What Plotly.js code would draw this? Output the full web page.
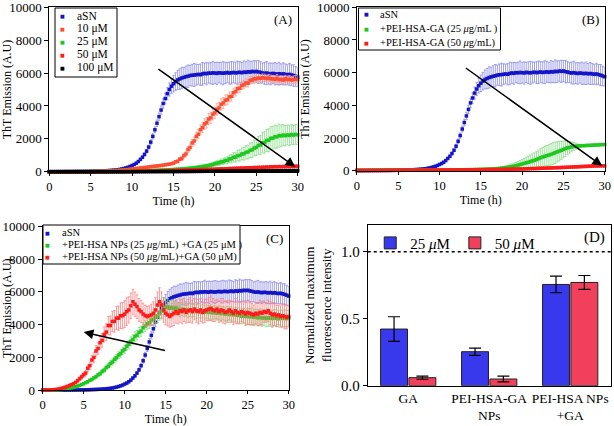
<!DOCTYPE html>
<html><head><meta charset="utf-8">
<script src="https://cdn.plot.ly/plotly-3.0.1.min.js"></script>
<style>html,body{margin:0;padding:0;background:#fff}#chart{width:614px;height:426px}</style>
</head><body><div id="chart"></div>
<script>
// ---------- DATA ----------
const time = [
0,0.25,0.5,0.75,1,1.25,1.5,1.75,2,2.25,2.5,2.75,3,3.25,3.5,3.75,4,4.25,4.5,4.75,
5,5.25,5.5,5.75,6,6.25,6.5,6.75,7,7.25,7.5,7.75,8,8.25,8.5,8.75,9,9.25,9.5,9.75,
10,10.25,10.5,10.75,11,11.25,11.5,11.75,12,12.25,12.5,12.75,13,13.25,13.5,13.75,14,14.25,14.5,14.75,
15,15.25,15.5,15.75,16,16.25,16.5,16.75,17,17.25,17.5,17.75,18,18.25,18.5,18.75,19,19.25,19.5,19.75,
20,20.25,20.5,20.75,21,21.25,21.5,21.75,22,22.25,22.5,22.75,23,23.25,23.5,23.75,24,24.25,24.5,24.75,
25,25.25,25.5,25.75,26,26.25,26.5,26.75,27,27.25,27.5,27.75,28,28.25,28.5,28.75,29,29.25,29.5,29.75,
30];

// aSN control (same in A, B, C)
const aSN = [
10,10,11,11,12,12,13,13,14,14,15,15,16,17,18,19,20,22,24,26,
28,31,34,38,42,47,52,58,65,73,82,92,105,120,140,165,195,230,270,320,
380,440,520,620,750,880,1050,1250,1500,1800,2150,2550,2950,3350,3750,4150,4450,4750,5000,5200,
5350,5480,5580,5640,5700,5740,5780,5810,5850,5870,5880,5900,5920,5900,5950,5980,5960,6000,5990,6010,
6000,5980,6020,6000,5990,6010,6030,6000,6020,6040,6010,6030,6050,6020,6060,6040,6080,6060,6100,6080,
6100,6060,6040,6000,5980,6000,5970,5950,5980,5960,5940,5960,5930,5950,5920,5900,5920,5880,5850,5800,
5750];
const aSNErr = [
0,0,0,0,0,0,0,0,0,0,0,0,0,0,0,0,0,0,0,0,
0,0,0,0,0,0,0,0,0,0,0,0,10,10,15,20,25,30,35,40,
45,50,55,60,70,80,90,100,120,140,160,180,200,220,250,280,320,360,400,450,
500,540,580,620,650,600,640,680,620,660,700,640,600,650,690,630,670,610,650,700,
640,680,620,660,700,650,610,670,690,630,660,700,640,620,680,650,700,660,620,680,
640,690,650,610,670,700,640,660,620,680,650,690,630,670,640,610,660,620,650,600,
580];

// Panel A: GA concentrations
const ga10 = [
0,0,0,0,1,1,2,2,3,3,4,4,5,5,6,7,8,9,10,12,
14,16,19,22,26,30,35,40,46,52,58,65,72,80,90,100,110,120,135,150,
165,180,195,210,225,240,255,270,290,305,320,335,350,365,380,400,420,440,460,490,
520,600,630,760,800,980,1080,1350,1480,1750,1870,2150,2280,2550,2680,2900,2980,3200,3280,3500,
3580,3800,3880,4100,4180,4350,4380,4550,4580,4800,4880,5050,5080,5250,5280,5400,5380,5550,5580,5650,
5650,5700,5680,5720,5700,5660,5700,5650,5650,5620,5680,5600,5620,5580,5650,5600,5620,5580,5600,5620,
5600];
const ga10Err = [
0,0,0,0,0,0,0,0,0,0,0,0,0,0,0,0,0,0,0,0,
0,0,0,0,0,0,0,0,0,0,0,0,0,0,5,5,5,5,10,10,
10,10,15,15,15,20,20,20,25,25,30,30,30,35,35,40,40,45,50,60,
70,80,90,100,120,140,160,180,200,220,240,260,280,300,300,320,320,340,340,350,
350,360,340,350,330,320,300,300,280,280,260,260,250,250,240,240,230,230,220,220,
220,230,210,220,230,210,220,230,210,220,230,210,220,230,210,220,230,210,220,230,
220];
const ga25 = [
0,0,0,0,0,0,0,0,1,1,1,1,2,2,2,2,3,3,3,4,
4,5,5,6,7,8,9,10,11,12,14,15,17,19,21,23,25,28,31,34,
38,41,45,49,53,57,61,65,70,74,78,83,88,93,98,104,110,116,122,128,
135,143,151,160,170,180,191,203,216,230,245,261,278,296,315,335,356,378,400,440,
480,520,540,600,610,680,690,780,790,880,890,980,990,1080,1090,1180,1200,1300,1330,1440,
1480,1600,1620,1760,1780,1900,1910,2030,2040,2130,2120,2200,2180,2230,2190,2240,2210,2260,2230,2270,
2250];
const ga25Err = [
0,0,0,0,0,0,0,0,0,0,0,0,0,0,0,0,0,0,0,0,
0,0,0,0,0,0,0,0,0,0,0,0,0,0,0,0,0,0,0,0,
0,0,0,0,0,5,5,5,5,5,5,5,10,10,10,10,10,15,15,15,
20,20,20,25,25,30,30,35,40,40,45,50,60,70,80,90,100,110,120,130,
140,150,160,170,180,200,220,240,260,280,300,320,340,360,380,400,420,440,460,480,
500,540,580,620,650,680,700,700,720,700,680,700,660,640,620,600,620,600,580,600,
600];
const ga50 = [
0,0,0,0,0,0,0,0,0,0,0,0,0,0,0,0,0,0,0,0,
1,1,2,2,3,3,4,4,5,6,7,8,9,10,11,12,14,16,18,20,
22,24,26,28,30,32,34,36,38,40,43,46,49,52,55,58,61,64,67,70,
74,78,82,86,90,94,98,102,106,110,114,118,122,126,130,134,138,142,146,150,
150,165,160,175,170,185,180,195,190,205,200,215,210,225,220,235,230,245,240,255,
250,265,260,275,270,285,280,300,290,310,295,315,300,320,305,325,310,330,320,335,
330];
const ga100 = [
0,0,0,0,0,0,0,0,0,0,0,0,0,0,0,0,0,0,0,0,
0,0,0,0,0,0,0,0,0,0,0,0,0,0,0,0,0,0,0,0,
2,2,3,3,4,4,5,5,6,6,7,7,8,8,9,9,10,10,11,11,
12,12,13,14,15,15,16,17,18,19,20,21,22,23,24,25,26,27,28,29,
30,31,32,33,34,35,36,37,38,39,40,41,42,43,44,45,46,47,48,49,
50,51,52,53,54,55,56,57,58,59,60,61,62,63,64,65,66,67,68,69,
70];

// Panel B: PEI-HSA-GA NPs
const nps25 = [
20,22,21,23,22,24,23,25,24,26,25,27,26,28,27,29,28,30,29,31,
30,32,31,33,32,34,33,35,34,36,35,37,36,38,37,39,38,40,39,41,
40,42,43,45,46,48,49,51,52,54,56,58,60,62,64,66,69,72,75,78,
82,86,90,95,100,106,112,120,130,142,155,170,188,205,225,250,275,305,340,375,
410,450,480,520,560,600,640,690,740,790,840,880,920,960,1000,1050,1100,1150,1200,1250,
1300,1350,1400,1430,1460,1480,1500,1510,1520,1530,1530,1540,1550,1550,1560,1570,1570,1580,1590,1600,
1600];
const nps25Err = [
0,0,0,0,0,0,0,0,0,0,0,0,0,0,0,0,0,0,0,0,
0,0,0,0,0,0,0,0,0,0,0,0,0,0,0,0,0,0,0,0,
0,0,0,0,0,0,0,0,0,0,0,0,0,0,0,0,5,5,5,5,
5,5,10,10,15,20,25,30,40,50,60,80,100,120,140,160,180,200,220,250,
280,310,340,370,400,430,460,490,520,550,580,600,620,640,660,680,650,620,600,560,
520,480,420,360,300,240,180,120,80,50,40,30,30,30,30,30,30,30,30,30,
30];
const nps50 = [
10,11,12,12,13,14,14,15,16,16,17,18,18,19,20,20,21,22,22,23,
24,24,25,26,26,27,28,28,29,30,30,31,32,32,33,34,34,35,36,36,
37,38,39,40,41,42,43,44,45,46,47,48,49,50,51,52,53,54,55,56,
58,60,62,64,66,68,70,72,74,76,78,80,83,86,89,92,95,98,101,104,
108,112,116,120,124,128,132,136,140,145,150,155,160,165,170,175,180,185,190,195,
200,206,212,218,224,230,236,242,248,254,260,266,272,278,284,290,292,294,296,298,
300];

// Panel C: PEI-HSA NPs + GA
const mix25 = [
5,6,7,9,12,15,20,27,40,48,60,78,100,120,150,185,220,260,300,350,
400,470,520,610,660,760,830,940,1010,1150,1230,1390,1470,1630,1720,1890,1980,2150,2230,2400,
2490,2690,2790,2990,3100,3280,3360,3530,3610,3810,3920,4060,4120,4280,4330,4480,4530,4720,4830,4980,
5050,5100,5000,5050,4980,5020,4950,4900,4950,4880,4920,4850,4900,4830,4880,4800,4850,4780,4820,4760,
4800,4750,4780,4720,4760,4700,4740,4680,4700,4650,4680,4620,4650,4600,4620,4560,4580,4520,4550,4500,
4520,4480,4500,4450,4470,4420,4450,4400,4430,4380,4420,4400,4380,4420,4390,4360,4410,4380,4400,4370,
4400];
const mix25Err = [
5,5,5,5,5,5,5,10,10,10,10,15,15,15,20,20,20,25,25,30,
40,50,60,70,80,90,100,110,120,130,140,150,160,170,180,190,200,210,220,230,
240,250,260,270,280,290,300,300,310,320,330,340,350,360,380,400,420,450,480,500,
520,500,480,460,440,420,400,420,400,380,400,420,400,380,400,420,400,380,400,420,
400,420,440,420,400,420,440,420,400,420,440,460,440,420,440,460,480,460,440,460,
480,500,520,500,480,500,520,500,480,500,520,500,480,500,520,500,480,500,520,500,
480];
const mix50 = [
0,5,10,15,20,30,45,60,80,110,150,190,240,290,340,400,480,580,700,820,
950,1050,1350,1500,1850,2000,2400,2550,2900,3050,3400,3550,3950,3950,4200,4200,4400,4400,4550,4550,
4650,4800,4900,5150,5400,5250,5100,4900,4800,4650,4550,4500,4550,4600,4700,4900,5200,5400,5200,4900,
4700,4600,4500,4600,4700,4800,4700,4850,4800,4900,4750,4850,4900,4800,4950,4850,4800,4900,4750,4850,
4900,4950,5000,4900,4850,4950,4800,4900,4850,4750,4800,4900,4800,4700,4850,4750,4700,4800,4750,4650,
4750,4700,4650,4600,4700,4650,4750,4700,4800,4750,4850,4700,4600,4650,4550,4600,4500,4550,4500,4450,
4500];
const mix50Err = [
5,5,5,5,10,10,10,15,20,25,30,35,40,50,60,70,80,100,120,140,
160,180,200,230,260,290,320,350,380,420,460,500,540,580,620,660,700,740,780,800,
820,840,800,780,760,740,720,700,680,660,640,620,600,650,700,750,800,850,800,750,
700,680,650,700,750,700,650,700,750,700,650,700,750,700,650,700,750,700,650,700,
650,700,750,700,650,600,650,700,750,700,650,600,650,700,750,700,650,600,650,700,
750,700,650,600,650,700,750,700,650,600,650,700,750,700,650,600,650,700,750,700,
650];

// Panel D: normalized maximum fluorescence
const barCategories = ['GA', 'PEI-HSA-GA<br>NPs', 'PEI-HSA NPs<br>+GA'];
const bar25 = [0.423, 0.254, 0.756];
const bar25Err = [0.092, 0.027, 0.062];
const bar50 = [0.060, 0.050, 0.771];
const bar50Err = [0.012, 0.022, 0.052];

// Legend labels
const legendA = ['aSN', '10 μM', '25 μM', '50 μM', '100 μM'];
const legendB = ['aSN', '+PEI-HSA-GA (25 <i>μ</i>g/mL )', '+PEI-HSA-GA (50 <i>μ</i>g/mL)'];
const legendC = ['aSN', '+PEI-HSA NPs (25 <i>μ</i>g/mL) +GA (25 μM )', '+PEI-HSA NPs (50 <i>μ</i>g/mL)+GA (50 μM)'];

// ---------- STYLE ----------
const SERIF = 'Liberation Serif, Times New Roman, serif';
const tickFont = {family: SERIF, size: 13, color: '#000'};
const xTickFont = {family: SERIF, size: 12.5, color: '#000'};
const titleFont = {family: SERIF, size: 12, color: '#000'};
const BLUE = '#1414c8', BLUE_E = '#8a8ae6';
const ORANGE = '#ff4d33', ORANGE_E = '#ffa08a';
const GREEN = '#1ec81e', GREEN_E = '#86dc86';
const RED = '#ff1a1a', RED_E = '#ff8080';
const colorsA = [BLUE, ORANGE, GREEN, RED, '#000'];
const colorsB = [BLUE, GREEN, RED];
const colorsC = [BLUE, GREEN, RED];

function sc(y, err, name, color, errColor, xa, ya) {
  return {
    type: 'scatter', mode: 'markers', x: time, y: y, name: name,
    xaxis: xa, yaxis: ya, showlegend: false, cliponaxis: false,
    marker: {color: color, size: 3.5, symbol: 'square'},
    error_y: err ? {type: 'data', array: err, visible: true, color: errColor, thickness: 0.8, width: 1.2}
                 : {visible: false}
  };
}

const traces = [
  sc(aSN, aSNErr, legendA[0], BLUE, BLUE_E, 'x', 'y'),
  sc(ga10, ga10Err, legendA[1], ORANGE, ORANGE_E, 'x', 'y'),
  sc(ga25, ga25Err, legendA[2], GREEN, GREEN_E, 'x', 'y'),
  sc(ga50, null, legendA[3], RED, RED_E, 'x', 'y'),
  sc(ga100, null, legendA[4], '#000', '#000', 'x', 'y'),

  sc(aSN, aSNErr, legendB[0], BLUE, BLUE_E, 'x2', 'y2'),
  sc(nps25, nps25Err, legendB[1], GREEN, GREEN_E, 'x2', 'y2'),
  sc(nps50, null, legendB[2], RED, RED_E, 'x2', 'y2'),

  sc(aSN, aSNErr, legendC[0], BLUE, BLUE_E, 'x3', 'y3'),
  sc(mix25, mix25Err, legendC[1], GREEN, GREEN_E, 'x3', 'y3'),
  sc(mix50, mix50Err, legendC[2], RED, RED_E, 'x3', 'y3'),

  {type: 'bar', x: barCategories, y: bar25, name: '25 <i>μ</i>M', xaxis: 'x4', yaxis: 'y4',
   marker: {color: '#3838ec', line: {color: '#222', width: 1}},
   error_y: {type: 'data', array: bar25Err, visible: true, color: '#000', thickness: 1.2, width: 6}},
  {type: 'bar', x: barCategories, y: bar50, name: '50 <i>μ</i>M', xaxis: 'x4', yaxis: 'y4',
   marker: {color: '#f23f5c', line: {color: '#222', width: 1}},
   error_y: {type: 'data', array: bar50Err, visible: true, color: '#000', thickness: 1.2, width: 6}}
];

function xTime(domain, anchor) {
  return {domain: domain, anchor: anchor, range: [0, 30], dtick: 5, tick0: 0,
    ticks: 'outside', ticklen: 3, tickwidth: 1, tickcolor: '#000', ticklabeloverflow: 'allow',
    showline: true, linecolor: '#000', linewidth: 1, mirror: true,
    showgrid: false, zeroline: false, tickfont: xTickFont,
    title: {text: 'Time (h)', font: titleFont, standoff: 0}};
}
function yThT(domain, anchor) {
  return {domain: domain, anchor: anchor, range: [0, 10000], dtick: 2000, tick0: 0, tickformat: 'd',
    ticks: 'outside', ticklen: 4, tickwidth: 1, tickcolor: '#000', ticklabeloverflow: 'allow',
    showline: true, linecolor: '#000', linewidth: 1, mirror: true,
    showgrid: false, zeroline: false, tickfont: tickFont,
    title: {text: 'ThT Emission (A.U)', font: titleFont, standoff: 4}};
}
function panelLabel(txt, xr, yr, size) {
  return {text: txt, xref: xr + ' domain', yref: yr + ' domain', x: 0.985, y: 0.985,
    xanchor: 'right', yanchor: 'top', showarrow: false, font: {family: SERIF, size: size, color: '#000'}};
}
function arrow(xr, yr, tipX, tipY, tailX, tailY) {
  return {xref: xr, yref: yr, axref: xr, ayref: yr, x: tipX, y: tipY, ax: tailX, ay: tailY,
    text: '', showarrow: true, arrowhead: 2, arrowsize: 1.3, arrowwidth: 1.5, arrowcolor: '#000'};
}

// Custom framed legends (pixel layout converted to paper coordinates)
const W = 614, H = 426;
const px = v => v / W, py = v => 1 - v / H;
const shapes = [
  {type: 'line', xref: 'x4 domain', yref: 'y4', x0: 0, x1: 1, y0: 1, y1: 1,
   line: {color: '#000', width: 1.5, dash: 'dot'}}
];
const annotations = [];
function framedLegend(labels, colors, box, markerX, textX, row0, dy, fontSize) {
  shapes.push({type: 'rect', xref: 'paper', yref: 'paper', x0: px(box[0]), x1: px(box[2]),
    y0: py(box[3]), y1: py(box[1]), line: {color: '#000', width: 1}, fillcolor: '#fff', layer: 'above'});
  labels.forEach((lab, i) => {
    const yy = py(row0 + i * dy);
    annotations.push({xref: 'paper', yref: 'paper', x: px(markerX), y: yy, text: '■',
      showarrow: false, xanchor: 'center', yanchor: 'middle',
      font: {family: 'DejaVu Sans', size: 5, color: colors[i]}});
    annotations.push({xref: 'paper', yref: 'paper', x: px(textX), y: yy, text: lab,
      showarrow: false, xanchor: 'left', yanchor: 'middle',
      font: {family: SERIF, size: fontSize, color: '#000'}});
  });
}
framedLegend(legendA, colorsA, [55, 8, 117, 77], 62, 75, 15.5, 13.1, 11.5);
framedLegend(legendB, colorsB, [358.5, 8, 500.5, 50], 366, 378, 14.5, 14.2, 10.5);
framedLegend(legendC, colorsC, [43, 225, 240, 264], 47.5, 60, 232.5, 12.3, 10.5);

annotations.push(
  panelLabel('(A)', 'x', 'y', 13), panelLabel('(B)', 'x2', 'y2', 13),
  panelLabel('(C)', 'x3', 'y3', 13), panelLabel('(D)', 'x4', 'y4', 15),
  arrow('x', 'y', 29.7, 300, 13.0, 6300),
  arrow('x2', 'y2', 29.7, 300, 13.0, 6350),
  arrow('x3', 'y3', 5.0, 3550, 15.1, 2400)
);

const layout = {
  width: W, height: H, margin: {l: 0, r: 0, t: 0, b: 0},
  paper_bgcolor: '#fff', plot_bgcolor: '#fff',
  font: {family: SERIF, color: '#000'},
  xaxis: xTime([0.0803, 0.4849], 'y'),
  yaxis: yThT([0.5969, 0.9829], 'x'),
  xaxis2: xTime([0.5814, 0.9848], 'y2'),
  yaxis2: yThT([0.5993, 0.9829], 'x2'),
  xaxis3: xTime([0.0695, 0.4702], 'y3'),
  yaxis3: yThT([0.0838, 0.4688], 'x3'),
  xaxis4: {domain: [0.5989, 0.9946], anchor: 'y4', type: 'category', range: [-0.5, 2.5],
    showline: true, linecolor: '#000', linewidth: 1, mirror: true, ticks: '', tickangle: 0,
    showgrid: false, zeroline: false, tickfont: {family: SERIF, size: 13.5, color: '#000'}},
  yaxis4: {domain: [0.0946, 0.4718], anchor: 'x4', range: [0, 1.2], tickvals: [0, 0.5, 1.0],
    ticktext: ['0.0', '0.5', '1.0'], ticks: 'outside', ticklen: 4, tickwidth: 1, tickcolor: '#000',
    showline: true, linecolor: '#000', linewidth: 1, mirror: true,
    showgrid: false, zeroline: false, tickfont: {family: SERIF, size: 15, color: '#000'},
    title: {text: 'Normalized maximum<br>fluorescence intensity', font: {family: SERIF, size: 13, color: '#000'}, standoff: 6}},
  barmode: 'group', bargap: 0.3, bargroupgap: 0.05,
  showlegend: true,
  legend: {x: 0.603, y: 0.468, xanchor: 'left', yanchor: 'top', orientation: 'h',
    bgcolor: 'rgba(0,0,0,0)', borderwidth: 0, font: {family: SERIF, size: 15, color: '#000'}},
  shapes: shapes,
  annotations: annotations
};

Plotly.newPlot('chart', traces, layout, {displayModeBar: false, staticPlot: true});
</script>
</body></html>
